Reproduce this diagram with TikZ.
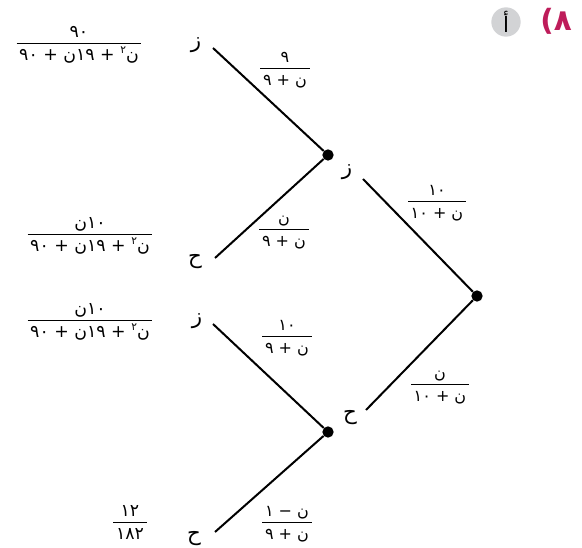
\documentclass[tikz,border=0pt]{standalone}
\usepackage{fontspec}
\newfontfamily\arabicfont[Script=Arabic]{DejaVu Sans}
\TeXXeTstate=1
\usepackage{tikz}
\usetikzlibrary{positioning}

\definecolor{qred}{RGB}{190,28,90}
\definecolor{qgray}{RGB}{210,211,213}

\newcommand{\sqtwo}{\raisebox{0.8ex}{\fontsize{8}{8}\selectfont ٢}}
\newcommand{\afrac}[2]{%
  \begin{tabular}{@{\hspace{2pt}}c@{\hspace{2pt}}}
    #1\\[0pt]\hline
    \rule{0pt}{12.5pt}#2
  \end{tabular}}

\begin{document}
\begin{tikzpicture}[
  x=0.75pt, y=-0.75pt,
  branch/.style={line width=1.5pt},
  dot/.style={circle, fill, inner sep=0pt, minimum size=8.5pt},
  event/.style={font=\arabicfont\fontsize{16}{18}\selectfont, inner sep=0pt},
  prob/.style={font=\arabicfont\fontsize{12}{14}\selectfont, inner sep=0pt},
  outcome/.style={font=\arabicfont\fontsize{13}{15}\selectfont, inner sep=0pt},
]
\useasboundingbox (0,0) rectangle (582,548);

% --- Question number ---
\node[circle, fill=qgray, minimum size=22pt, inner sep=0pt,
  font=\arabicfont\fontsize{16}{18}\selectfont] (part) at (506,22)
  {\beginR أ\endR};
\node[font=\arabicfont\fontsize{22}{24}\selectfont\bfseries, text=qred]
  (qnum) at (556,21) {\beginR ٨)\endR};

% --- First stage ---
\node[dot] (root) at (477,296) {};
\coordinate (zend) at (363,179);
\coordinate (hend) at (366,410);
\draw[branch] (root) -- (zend);
\draw[branch] (root) -- (hend);
\node[event] (z) at (347,172) {\beginR ز\endR};
\node[event] (h) at (350,418) {\beginR ح\endR};
\node[prob] (pz) at (437,203)
  {\afrac{\beginR ١٠\endR}{\beginR ن + ١٠\endR}};
\node[prob] (ph) at (440,386)
  {\afrac{\beginR ن\endR}{\beginR ن + ١٠\endR}};

% --- Second stage after z ---
\node[dot] (zdot) at (328,155) {};
\coordinate (zzend) at (213,48);
\coordinate (zhend) at (215,258);
\draw[branch] (zdot) -- (zzend);
\draw[branch] (zdot) -- (zhend);
\node[event] (zz) at (196,45) {\beginR ز\endR};
\node[event] (zh) at (195,262) {\beginR ح\endR};
\node[prob] (pzz) at (285,70)
  {\afrac{\beginR ٩\endR}{\beginR ن + ٩\endR}};
\node[prob] (pzh) at (284,231)
  {\afrac{\beginR ن\endR}{\beginR ن + ٩\endR}};

% --- Second stage after h ---
\node[dot] (hdot) at (328,432) {};
\coordinate (hzend) at (213,324);
\coordinate (hhend) at (215,532);
\draw[branch] (hdot) -- (hzend);
\draw[branch] (hdot) -- (hhend);
\node[event] (hz) at (197,321) {\beginR ز\endR};
\node[event] (hh) at (194,539) {\beginR ح\endR};
\node[prob] (phz) at (287,338)
  {\afrac{\beginR ١٠\endR}{\beginR ن + ٩\endR}};
\node[prob] (phh) at (287,524)
  {\afrac{\beginR ن − ١\endR}{\beginR ن + ٩\endR}};

% --- Outcomes ---
\node[outcome] (rzz) at (79,45)
  {\afrac{\beginR ٩٠\endR}{\beginR ن\sqtwo{} + ١٩ن + ٩٠\endR}};
\node[outcome] (rzh) at (90,236)
  {\afrac{\beginR ١٠ن\endR}{\beginR ن\sqtwo{} + ١٩ن + ٩٠\endR}};
\node[outcome] (rhz) at (90,322)
  {\afrac{\beginR ١٠ن\endR}{\beginR ن\sqtwo{} + ١٩ن + ٩٠\endR}};
\node[outcome] (rhh) at (130,524) {\afrac{\beginR ١٢\endR}{\beginR ١٨٢\endR}};

\end{tikzpicture}
\end{document}
